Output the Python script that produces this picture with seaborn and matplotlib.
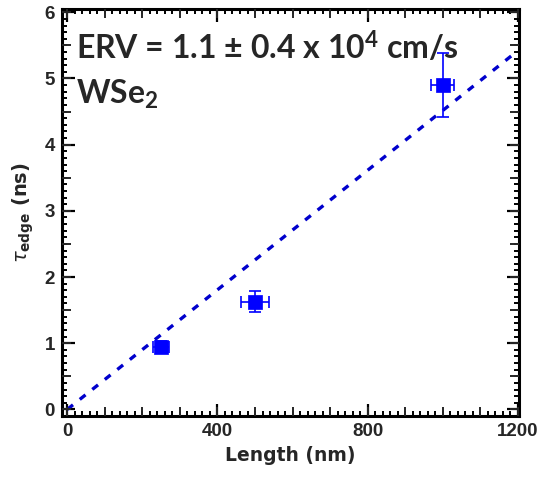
import numpy as np
import pandas as pd
import matplotlib
matplotlib.use("Agg")
import matplotlib.pyplot as plt
import seaborn as sns
from matplotlib.ticker import MultipleLocator

# data
length_nm = [250, 500, 1000]
tau_ns = [0.95, 1.63, 4.90]
length_err = [22, 37, 31]
tau_err = [0.08, 0.16, 0.48]
fit_length = [0, 1200]
fit_tau = [0, 5.42]
x_ticks = [0, 400, 800, 1200]
y_ticks = [0, 1, 2, 3, 4, 5, 6]

sns.set_theme(style="ticks")
plt.rcParams["font.family"] = ["DejaVu Sans"]
plt.rcParams["mathtext.fontset"] = "custom"
plt.rcParams["mathtext.rm"] = "Lato:bold"
plt.rcParams["mathtext.bf"] = "Lato:bold"
plt.rcParams["mathtext.it"] = "Lato:bold:italic"

fig = plt.figure(figsize=(5.39, 4.86), dpi=100)
ax = fig.add_axes([62/539, 1-416/486, (519-62)/539, (416-9)/486])

blue = "#0000ff"
fit_df = pd.DataFrame({"x": fit_length, "y": fit_tau})
sns.lineplot(data=fit_df, x="x", y="y", ax=ax, color="#0000cc",
             linestyle=(0, (2.2, 2.6)), linewidth=2.4)

ax.errorbar(length_nm, tau_ns, xerr=length_err, yerr=tau_err, fmt="none",
            ecolor=blue, elinewidth=1.2, capsize=4, capthick=1.2, zorder=3)
pts = pd.DataFrame({"x": length_nm, "y": tau_ns})
sns.scatterplot(data=pts, x="x", y="y", ax=ax, marker="s", s=100,
                color=blue, edgecolor=blue, linewidth=0.5, zorder=4)

xlim = (-14, 1203)
ylim = (-0.1, 6.05)
ax.set_xlim(*xlim)
ax.set_ylim(*ylim)

# medium ticks via twin axes (created first, then main tick styling)
axm = ax.twiny()
axm.set_xlim(*xlim)
axm.set_xticks(np.arange(0, 1201, 100))
axm.tick_params(axis="x", which="major", direction="in", length=6.5, width=1.4,
                top=True, bottom=True, labeltop=False, labelbottom=False)
for sp in axm.spines.values():
    sp.set_visible(False)
axr = ax.twinx()
axr.set_ylim(*ylim)
axr.set_yticks(np.arange(0, 6.01, 0.5))
axr.tick_params(axis="y", which="major", direction="in", length=6.5, width=1.4,
                left=True, right=True, labelleft=False, labelright=False)
for sp in axr.spines.values():
    sp.set_visible(False)

ax.set_xticks(x_ticks)
ax.set_yticks(y_ticks)
ax.xaxis.set_minor_locator(MultipleLocator(20))
ax.yaxis.set_minor_locator(MultipleLocator(0.1))
ax.tick_params(which="major", direction="in", length=9, width=1.6,
               top=True, right=True, bottom=True, left=True,
               labelsize=13.5, pad=5, color="black")
ax.tick_params(which="minor", direction="in", length=3.5, width=1.4,
               top=True, right=True, bottom=True, left=True, color="black")
for lab in ax.get_xticklabels() + ax.get_yticklabels():
    lab.set_fontweight("bold")
    lab.set_family("Liberation Sans")
for sp in ax.spines.values():
    sp.set_linewidth(2.2)
    sp.set_color("black")

ax.set_xlabel("Length (nm)", fontsize=13.5, fontweight="bold", labelpad=4)
ax.set_ylabel(r"$\tau_{\mathbf{edge}}$ (ns)", fontsize=14, fontweight="bold",
              labelpad=6, math_fontfamily="dejavusans")

ax.text(0.03, 0.905, r"ERV = 1.1 ± 0.4 x 10$^{4}$ cm/s", transform=ax.transAxes,
        fontsize=23, fontweight="bold", family="Lato", va="center", ha="left")
ax.text(0.03, 0.79, r"WSe$_{2}$", transform=ax.transAxes,
        fontsize=23, fontweight="bold", family="Lato", va="center", ha="left")

fig.savefig("out.png", dpi=100)
